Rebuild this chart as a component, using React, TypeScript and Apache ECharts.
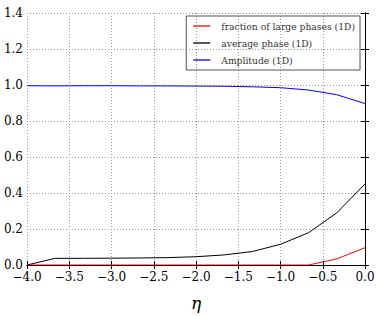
import React, { useEffect, useRef } from "react";
import * as echarts from "echarts";

const etaValues = [-4, -3.6667, -3.3333, -3, -2.6667, -2.3333, -2, -1.6667, -1.3333, -1, -0.6667, -0.3333, 0];
const fractionLarge = [0, 0, 0, 0, 0, 0, 0, 0, 0, 0, 0, 0.034, 0.096];
const averagePhase = [0, 0.037, 0.037, 0.038, 0.039, 0.041, 0.046, 0.056, 0.075, 0.115, 0.18, 0.29, 0.45];
const amplitude = [0.996, 0.995, 0.996, 0.996, 0.995, 0.995, 0.994, 0.993, 0.99, 0.985, 0.972, 0.946, 0.897];
const seriesNames = ["fraction of large phases (1D)", "average phase (1D)", "Amplitude (1D)"];
const seriesColors = ["#ff0000", "#000000", "#0000ff"];

const FONT = "DejaVu Serif";

function pairs(vals: number[]) {
  return etaValues.map((x, i) => [x, vals[i]]);
}

const fmt = (v: number) => v.toFixed(1).replace("-", "\u2212");

export default function App() {
  const ref = useRef<HTMLDivElement>(null);
  useEffect(() => {
    document.body.style.margin = "0";
    const chart = echarts.init(ref.current!, null, { renderer: "svg" });
    const axisLine = { show: true, lineStyle: { color: "#000", width: 1 } };
    const tick = { show: true, inside: true, length: 4, lineStyle: { color: "#000", width: 1 } };
    const split = { show: true, lineStyle: { color: "#999", type: [1, 2], width: 1 } };
    chart.setOption({
      animation: false,
      backgroundColor: "#fff",
      textStyle: { fontFamily: FONT },
      grid: { left: 27, right: 15, top: 13, bottom: 42, containLabel: false },
      legend: {
        orient: "vertical",
        right: 20,
        top: 16,
        data: seriesNames.map((n) => ({ name: n })),
        icon: "rect",
        itemWidth: 17,
        itemHeight: 1.3,
        itemGap: 5,
        padding: [4, 5, 4, 7],
        borderColor: "#555",
        borderWidth: 1,
        borderRadius: 0,
        textStyle: { fontFamily: FONT, fontSize: 9.2, color: "#333", lineHeight: 12, padding: [0, 0, 0, 6] },
        selectedMode: false,
      },
      xAxis: [
        {
          type: "value",
          min: -4,
          max: 0,
          interval: 0.5,
          position: "bottom",
          axisLine,
          axisTick: tick,
          splitLine: split,
          axisLabel: { formatter: fmt, fontFamily: FONT, fontSize: 12, color: "#000", margin: 6 },
          name: "η",
          nameLocation: "middle",
          nameGap: 29,
          nameTextStyle: { fontFamily: FONT, fontStyle: "italic", fontSize: 17, color: "#000" },
        },
        {
          type: "value",
          min: -4,
          max: 0,
          interval: 0.5,
          position: "top",
          axisLine,
          axisTick: tick,
          splitLine: { show: false },
          axisLabel: { show: false },
        },
      ],
      yAxis: [
        {
          type: "value",
          min: 0,
          max: 1.4,
          interval: 0.2,
          position: "left",
          axisLine,
          axisTick: tick,
          splitLine: split,
          axisLabel: { formatter: fmt, fontFamily: FONT, fontSize: 12, color: "#000", margin: 4 },
        },
        {
          type: "value",
          min: 0,
          max: 1.4,
          interval: 0.2,
          position: "right",
          axisLine,
          axisTick: tick,
          splitLine: { show: false },
          axisLabel: { show: false },
        },
      ],
      series: [fractionLarge, averagePhase, amplitude].map((vals, i) => ({
        name: seriesNames[i],
        type: "line",
        data: pairs(vals),
        showSymbol: false,
        symbol: "none",
        color: seriesColors[i],
        lineStyle: { color: seriesColors[i], width: 1 },
        z: 5 - i,
      })),
    });
    return () => chart.dispose();
  }, []);
  return <div ref={ref} style={{ width: 380, height: 316 }} />;
}
